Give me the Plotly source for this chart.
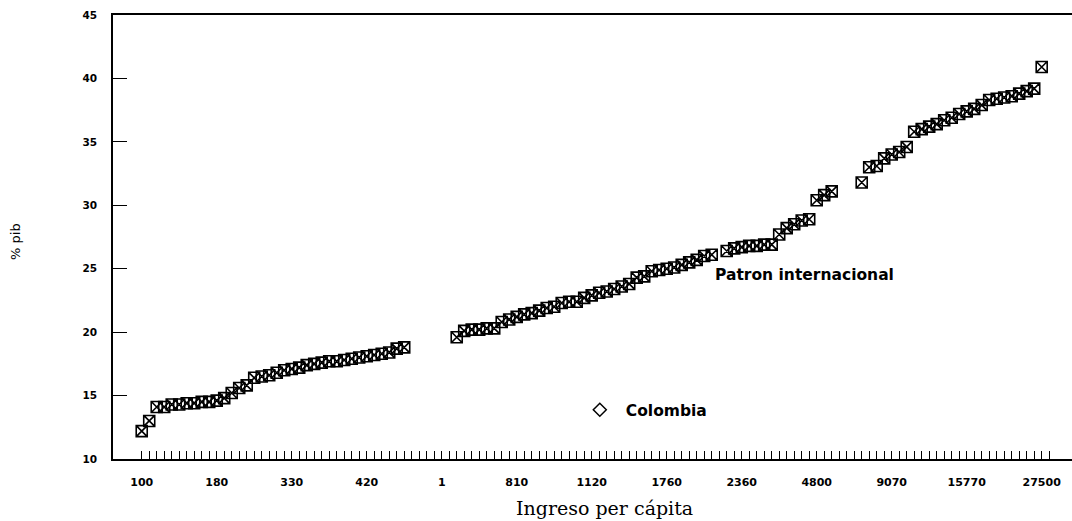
import plotly.graph_objects as go

# Per-capita income brackets shown on the horizontal axis (every tenth position is labelled)
income_labels = ["100", "180", "330", "420", "1", "810", "1120",
                 "1760", "2360", "4800", "9070", "15770", "27500"]

# International pattern, % of GDP, one value per income position (None = no observation)
pib_share = [
    12.2, 13.0, 14.1, 14.1, 14.3, 14.3, 14.4, 14.4, 14.5, 14.5,
    14.6, 14.8, 15.2, 15.6, 15.8, 16.4, 16.5, 16.6, 16.8, 17.0,
    17.1, 17.2, 17.4, 17.5, 17.6, 17.7, 17.7, 17.8, 17.9, 18.0,
    18.1, 18.2, 18.3, 18.4, 18.7, 18.8, None, None, None, None,
    None, None, 19.6, 20.1, 20.2, 20.2, 20.3, 20.3, 20.8, 21.0,
    21.2, 21.4, 21.5, 21.7, 21.9, 22.0, 22.3, 22.4, 22.4, 22.7,
    22.9, 23.1, 23.2, 23.4, 23.6, 23.8, 24.3, 24.4, 24.8, 24.9,
    25.0, 25.1, 25.3, 25.5, 25.7, 26.0, 26.1, None, 26.4, 26.6,
    26.7, 26.8, 26.8, 26.9, 26.9, 27.7, 28.2, 28.5, 28.8, 28.9,
    30.4, 30.8, 31.1, None, None, None, 31.8, 33.0, 33.1, 33.7,
    34.0, 34.2, 34.6, 35.8, 36.0, 36.2, 36.4, 36.7, 36.9, 37.2,
    37.4, 37.6, 37.9, 38.3, 38.4, 38.5, 38.6, 38.8, 39.0, 39.2,
    40.9,
]

positions = list(range(len(pib_share)))
n_ticks = len(pib_share) + 1
tick_vals = list(range(n_ticks))
tick_text = [income_labels[i // 10] if i % 10 == 0 and i // 10 < len(income_labels) else ""
             for i in tick_vals]

bold = dict(family="DejaVu Sans", weight="bold", color="black")

fig = go.Figure()
fig.add_trace(go.Scatter(
    x=positions, y=pib_share, mode="markers", name="Patron internacional",
    showlegend=False,
    marker=dict(symbol="square-x-open", size=11, color="black",
                line=dict(width=1.6, color="black")),
))
# Legend key for the Colombia series
fig.add_trace(go.Scatter(
    x=[None], y=[None], mode="markers", name="Colombia",
    marker=dict(symbol="diamond-open", size=10, color="black",
                line=dict(width=1.5, color="black")),
))

fig.add_annotation(x=76.2, y=24.5, xref="x", yref="y", text="Patron internacional",
                   showarrow=False, xanchor="left", yanchor="middle",
                   font=dict(size=15.5, **bold))
fig.add_annotation(x=0.513, y=0, xref="paper", yref="paper", yshift=-49,
                   text="Ingreso per cápita", showarrow=False,
                   xanchor="center", yanchor="middle",
                   font=dict(family="DejaVu Serif", size=19, color="black"))
fig.add_annotation(x=0, y=0.489, xref="paper", yref="paper", xshift=-97,
                   text="% pib", showarrow=False, textangle=-90,
                   xanchor="center", yanchor="middle",
                   font=dict(family="DejaVu Sans", size=13, color="black"))

fig.update_layout(
    width=1072, height=521,
    margin=dict(l=113, r=0, t=15, b=62),
    paper_bgcolor="white", plot_bgcolor="white",
    showlegend=True,
    legend=dict(x=0.4805, y=0.110, xanchor="left", yanchor="middle",
                bgcolor="rgba(0,0,0,0)", borderwidth=0, itemwidth=42,
                font=dict(size=15.5, **bold)),
    xaxis=dict(
        range=[-3.83, 124.04], showgrid=False, zeroline=False,
        showline=True, linecolor="black", linewidth=1.5, mirror=True,
        tickmode="array", tickvals=tick_vals, ticktext=tick_text,
        ticks="inside", ticklen=8, tickwidth=1, tickcolor="black",
        ticklabelstandoff=12,
        tickfont=dict(size=11, **bold),
    ),
    yaxis=dict(
        range=[10, 45], showgrid=False, zeroline=False,
        showline=True, linecolor="black", linewidth=1.5, mirror=False,
        tickmode="linear", tick0=10, dtick=5,
        ticks="inside", ticklen=14, tickwidth=1, tickcolor="black",
        ticklabelstandoff=12,
        tickfont=dict(size=10.5, **bold),
    ),
)

fig.write_html("out.html")
